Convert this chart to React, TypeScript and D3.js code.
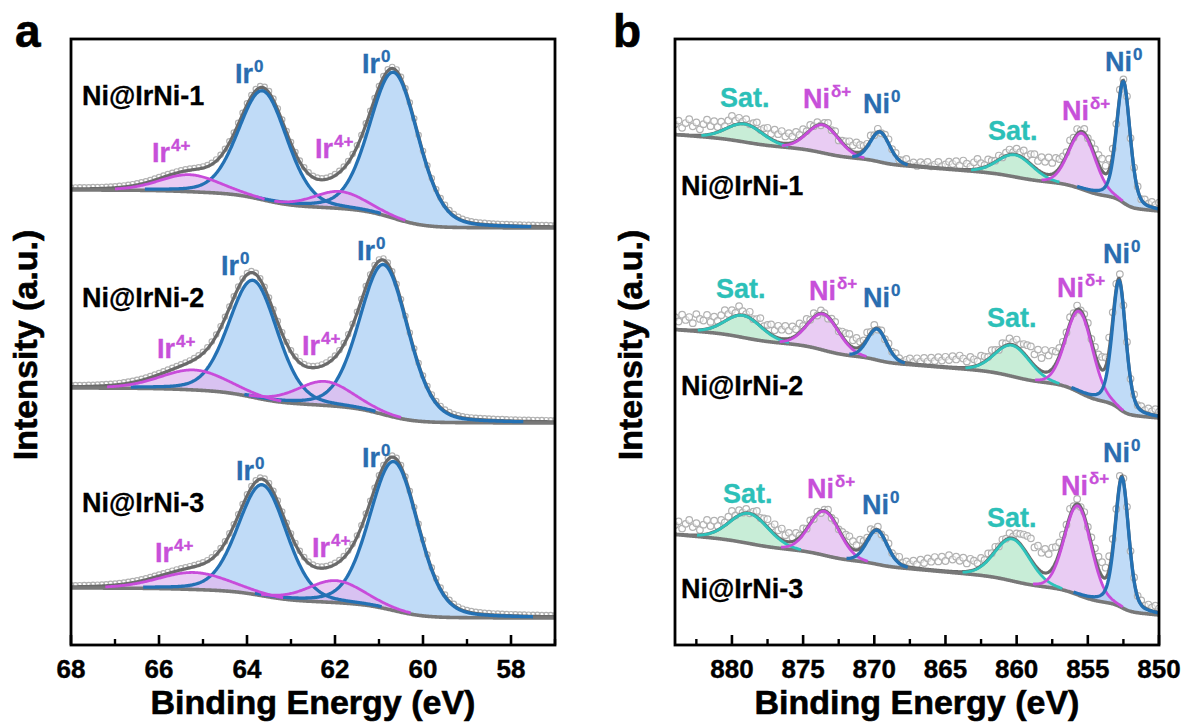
import React from "react";
import * as d3 from "d3";

// ---------------- Panel a : Ir 4f ----------------
const irSamples = ["Ni@IrNi-1", "Ni@IrNi-2", "Ni@IrNi-3"];
const irStates = ["0", "0", "4+", "4+"]; // Ir0 4f5/2, Ir0 4f7/2, Ir4+ 4f5/2, Ir4+ 4f7/2
const irCenters = [
  [63.64, 60.66, 65.3, 61.89],
  [63.86, 60.89, 65.2, 62.23],
  [63.65, 60.66, 65.2, 61.98],
];
const irHeights = [
  [109, 146, 17, 17],
  [117, 150, 20, 24],
  [111, 149, 17, 22],
];
const irFwhm = [
  [1.3, 1.3, 1.6, 1.4],
  [1.3, 1.3, 1.8, 1.5],
  [1.3, 1.3, 1.9, 1.5],
];
const irEta = [0.2, 0.2, 0.2, 0.2]; // Lorentzian fraction per component
const irBgHigh = [455, 257, 57]; // background level at 68 eV
const irBgLow = [417, 222, 27]; // background level at 57 eV
const irTicksMajor = [68, 66, 64, 62, 60, 58];
const irTicksMinor = [67, 65, 63, 61, 59, 57];

// ---------------- Panel b : Ni 2p ----------------
const niSamples = ["Ni@IrNi-1", "Ni@IrNi-2", "Ni@IrNi-3"];
const niStates = ["Sat.", "δ+", "0", "Sat.", "δ+", "0"];
const niCenters = [
  [879.1, 873.6, 869.6, 860.1, 855.4, 852.5],
  [879.2, 873.6, 869.8, 860.3, 855.6, 852.8],
  [878.8, 873.5, 869.8, 860.3, 855.7, 852.6],
];
const niHeights = [
  [18, 28, 30, 22, 56, 121],
  [22, 36, 31, 31, 81, 128],
  [30, 44, 34, 42, 89, 130],
];
const niFwhm = [
  [3.0, 2.6, 1.6, 2.9, 2.2, 1.12],
  [3.0, 2.6, 1.6, 2.9, 2.2, 1.12],
  [3.2, 2.5, 1.7, 2.9, 2.2, 1.12],
];
const niEta = [0.1, 0.1, 0.2, 0.1, 0.1, 0.35];
const niBgLow = [434, 227, 30]; // background at 850 eV
const niBgSlope = [1.1, 1.1, 1.25]; // linear part per eV
const niBgStep = [39, 51, 38]; // Shirley step
const niTicksMajor = [880, 875, 870, 865, 860, 855, 850];
const niTicksMinor = [882.5, 877.5, 872.5, 867.5, 862.5, 857.5, 852.5];

// measured points minus fit envelope, 884 -> 850 eV every 0.25 eV
const niResidual1 = [
  10, 14, 7, 12, 16, 9, 13, 6, 11, 15,
  8, 12, 5, 9, 3, 7, 10, 4, 6, 2,
  5, 1, 4, 7, 2, 6, 9, 5, 11, 8,
  12, 7, 10, 6, 9, 4, 7, 2, 5, 1,
  3, -1, 2, 4, 0, 3, -2, 2, 5, 8,
  6, 10, 7, 4, 2, 5, 0, 3, -1, 2,
  4, 1, 3, 0, 2, 5, 1, 3, 0, 4,
  2, 5, 1, 3, 6, 2, 4, 7, 5, 8,
  4, 9, 6, 3, 7, 10, 5, 2, 6, 3,
  1, 4, 0, 3, 5, 2, 6, 4, 8, 5,
  10, 13, 9, 15, 12, 17, 11, 14, 9, 6,
  3, 7, 2, 5, 1, 4, 0, 3, 6, 9,
  12, 8, 11, 6, 3, 5, 1, 4, -1, 2,
  3, 0, 4, 2, 5, 3, 6,
];
const niResidual2 = [
  12, 8, 15, 10, 13, 7, 16, 11, 9, 14,
  6, 10, 4, 8, 11, 5, 7, 3, 9, 4,
  2, 6, 1, 4, 8, 3, 7, 10, 6, 12,
  9, 13, 8, 11, 6, 9, 3, 6, 1, 4,
  -1, 3, 1, -2, 2, 4, 0, 5, 8, 11,
  7, 10, 5, 3, 6, 1, 4, -1, 2, 0,
  3, 1, 4, 2, 0, 3, 5, 2, 6, 3,
  7, 4, 8, 5, 9, 6, 10, 7, 11, 8,
  12, 9, 6, 10, 7, 4, 8, 5, 2, 6,
  3, 0, 4, 2, 6, 3, 7, 5, 9, 12,
  15, 11, 19, 13, 22, 16, 18, 12, 8, 4,
  2, 6, 1, 4, 0, 3, 5, 2, 7, 10,
  13, 9, 12, 7, 4, 6, 2, 5, 0, 3,
  1, 4, 2, 5, 3, 6, 4,
];
const niResidual3 = [
  9, 13, 6, 11, 15, 8, 12, 5, 10, 14,
  7, 11, 4, 8, 3, 6, 9, 2, 5, 1,
  4, 0, 3, 6, 2, 5, 8, 4, 10, 7,
  11, 6, 9, 4, 7, 2, 5, 0, 3, -1,
  2, -2, 1, 3, -1, 2, 0, 4, 7, 10,
  8, 5, 9, 4, 2, 5, 0, 3, -1, 2,
  4, 1, 3, 6, 2, 5, 3, 7, 4, 9,
  6, 11, 8, 13, 9, 14, 10, 16, 12, 15,
  11, 14, 8, 12, 9, 5, 8, 3, 6, 2,
  4, 0, 3, 1, 5, 2, 7, 10, 14, 18,
  21, 17, 23, 19, 24, 18, 21, 15, 10, 6,
  3, 7, 1, 5, 0, 4, 2, 6, 9, 12,
  14, 10, 13, 8, 4, 6, 2, 5, 0, 3,
  1, 4, 2, 5, 3, 6, 4,
];
const niResiduals = [niResidual1, niResidual2, niResidual3];

// ---------------- helpers ----------------
const FONT = "'Liberation Sans', Arial, Helvetica, sans-serif";
const Y0 = 39;
const Y1 = 645;
const yScale = d3.scaleLinear().domain([0, 606]).range([Y1, Y0]);

function pv(E: number, c: number, h: number, w: number, eta: number) {
  const x = (E - c) / w;
  return h * ((1 - eta) * Math.exp(-4 * Math.LN2 * x * x) + eta / (1 + 4 * x * x));
}

function buildSpectrum(
  grid: number[],
  centers: number[],
  heights: number[],
  fwhms: number[],
  etas: number[],
  low: number,
  slope: number,
  step: number,
  eRef: number
) {
  const comps = centers.map((c, i) => grid.map((E) => pv(E, c, heights[i], fwhms[i], etas[i])));
  const total = grid.map((_, j) => comps.reduce((s, cp) => s + cp[j], 0));
  const area = [0];
  for (let j = 1; j < grid.length; j++) {
    area.push(area[j - 1] + 0.5 * (total[j] + total[j - 1]) * (grid[j] - grid[j - 1]));
  }
  const A = area[area.length - 1];
  const bg = grid.map((E, j) => low + slope * (E - eRef) + (step * area[j]) / A);
  const env = grid.map((_, j) => bg[j] + total[j]);
  return { grid, comps, bg, env };
}

const styleOf: Record<string, { line: string; fill: string; text: string }> = {
  "0": { line: "#2471b4", fill: "#a7cdf4", text: "#2a6db0" },
  "4+": { line: "#c84cda", fill: "#e0b8ee", text: "#c750d9" },
  "δ+": { line: "#c84cda", fill: "#e0b8ee", text: "#c750d9" },
  "Sat.": { line: "#2ec3bb", fill: "#b3e6c8", text: "#2cc0b8" },
};

type Spec = ReturnType<typeof buildSpectrum>;

function Panel(props: {
  id: string;
  xs: d3.ScaleLinear<number, number>;
  spectra: Spec[];
  states: string[];
  circles: { x: number; y: number }[][];
  circleR: number;
  peakLabels: number[][][];
  sampleLabels: number[][];
  samples: string[];
  majors: number[];
  minors: number[];
  letter: string;
  letterX: number;
  yTitleX: number;
}) {
  const { id, xs, spectra, states } = props;
  const [x0, x1] = xs.range();
  const clip = `clip-${id}`;
  return (
    <g>
      <defs>
        <clipPath id={clip}>
          <rect x={x0} y={Y0} width={x1 - x0} height={Y1 - Y0} />
        </clipPath>
      </defs>
      <g clipPath={`url(#${clip})`}>
        {spectra.map((sp, s) =>
          sp.comps.map((cp, i) => {
            const area = d3
              .area<number>()
              .defined((_, j) => cp[j] > 0.15)
              .x((_, j) => xs(sp.grid[j]))
              .y0((_, j) => yScale(sp.bg[j]))
              .y1((_, j) => yScale(sp.bg[j] + cp[j]));
            return (
              <path
                key={`f${s}-${i}`}
                d={area(sp.grid) || ""}
                fill={styleOf[states[i]].fill}
                fillOpacity={0.72}
                stroke="none"
              />
            );
          })
        )}
        {props.circles.map((pts, s) =>
          pts.map((p, k) => (
            <circle
              key={`c${s}-${k}`}
              cx={p.x}
              cy={p.y}
              r={props.circleR}
              fill="#ffffff"
              fillOpacity={0.55}
              stroke="#b2b2b2"
              strokeWidth={1.2}
            />
          ))
        )}
        {spectra.map((sp, s) => {
          const line = d3
            .line<number>()
            .x((_, j) => xs(sp.grid[j]))
            .y((v) => yScale(v));
          return (
            <g key={`e${s}`}>
              <path d={line(sp.env) || ""} fill="none" stroke="#6a6a6a" strokeWidth={3.2} />
              <path d={line(sp.bg) || ""} fill="none" stroke="#787878" strokeWidth={3.6} />
            </g>
          );
        })}
        {spectra.map((sp, s) =>
          sp.comps.map((cp, i) => {
            const line = d3
              .line<number>()
              .defined((_, j) => cp[j] > 1.2)
              .x((_, j) => xs(sp.grid[j]))
              .y((_, j) => yScale(sp.bg[j] + cp[j]));
            return (
              <path
                key={`l${s}-${i}`}
                d={line(sp.grid) || ""}
                fill="none"
                stroke={styleOf[states[i]].line}
                strokeWidth={states[i] === "0" ? 3.3 : 2.8}
              />
            );
          })
        )}
      </g>
      <rect x={x0} y={Y0} width={x1 - x0} height={Y1 - Y0} fill="none" stroke="#000" strokeWidth={2.8} />
      {props.majors.map((t) => (
        <line key={`M${t}`} x1={xs(t)} x2={xs(t)} y1={Y1} y2={Y1 - 10} stroke="#000" strokeWidth={2.6} />
      ))}
      {props.minors.map((t) => (
        <line key={`m${t}`} x1={xs(t)} x2={xs(t)} y1={Y1} y2={Y1 - 6} stroke="#000" strokeWidth={2.4} />
      ))}
      {props.majors.map((t) => (
        <text
          key={`T${t}`}
          x={xs(t)}
          y={678}
          textAnchor="middle"
          fontSize={26}
          fontWeight="bold"
          fill="#000"
          stroke="#000"
          strokeWidth={0.4}
        >
          {String(t)}
        </text>
      ))}
      <text
        x={(x0 + x1) / 2}
        y={714}
        textAnchor="middle"
        fontSize={34}
        fontWeight="bold"
        fill="#000"
        stroke="#000"
        strokeWidth={0.6}
      >
        Binding Energy (eV)
      </text>
      <text
        transform={`translate(${props.yTitleX},${(Y0 + Y1) / 2 + 3}) rotate(-90)`}
        textAnchor="middle"
        fontSize={34}
        fontWeight="bold"
        fill="#000"
        stroke="#000"
        strokeWidth={0.6}
      >
        Intensity (a.u.)
      </text>
      <text x={props.letterX} y={47} fontSize={46} fontWeight="bold" fill="#000" stroke="#000" strokeWidth={0.6}>
        {props.letter}
      </text>
      {props.samples.map((name, s) => (
        <text
          key={`s${s}`}
          x={props.sampleLabels[s][0]}
          y={props.sampleLabels[s][1]}
          fontSize={27}
          fontWeight="bold"
          fill="#000"
          stroke="#000"
          strokeWidth={0.3}
        >
          {name}
        </text>
      ))}
      {props.peakLabels.map((row, s) =>
        row.map((pos, i) => {
          const st = states[i];
          const col = styleOf[st].text;
          const base = st === "Sat." ? "Sat." : id === "a" ? "Ir" : "Ni";
          return (
            <text
              key={`p${s}-${i}`}
              x={pos[0]}
              y={pos[1]}
              fontSize={27}
              fontWeight="bold"
              fill={col}
              stroke={col}
              strokeWidth={0.3}
            >
              {base}
              {st !== "Sat." && (
                <tspan fontSize={17} dy={-11} dx={1}>
                  {st}
                </tspan>
              )}
            </text>
          );
        })
      )}
    </g>
  );
}

export default function App() {
  const xA = d3.scaleLinear().domain([68, 57]).range([71, 555]);
  const xB = d3.scaleLinear().domain([884, 850]).range([675, 1159]);

  const gridA = d3.range(0, 551).map((i) => 57 + i * 0.02);
  const gridB = d3.range(0, 681).map((i) => 850 + i * 0.05);

  const irSpectra = irSamples.map((_, s) =>
    buildSpectrum(gridA, irCenters[s], irHeights[s], irFwhm[s], irEta, irBgLow[s], 0, irBgHigh[s] - irBgLow[s], 57)
  );
  const niSpectra = niSamples.map((_, s) =>
    buildSpectrum(gridB, niCenters[s], niHeights[s], niFwhm[s], niEta, niBgLow[s], niBgSlope[s], niBgStep[s], 850)
  );

  const irCircles = irSpectra.map((sp) =>
    sp.grid
      .map((E, j) => ({ j, E }))
      .filter((d) => d.j % 5 === 0)
      .map((d) => ({ x: xA(d.E), y: yScale(sp.env[d.j] + 1.5) }))
  );
  const niCircles = niSpectra.map((sp, s) =>
    niResiduals[s].map((r, i) => {
      const j = 680 - 5 * i;
      return { x: xB(sp.grid[j]), y: yScale(sp.env[j] + r) };
    })
  );

  const irLabelPos = [
    [[235, 83], [362, 73], [152, 162], [315, 158]],
    [[221, 275], [357, 260], [157, 358], [302, 355]],
    [[236, 480], [362, 467], [155, 562], [312, 557]],
  ];
  const niLabelPos = [
    [[720, 107], [803, 108], [863, 113], [988, 140], [1062, 120], [1105, 71]],
    [[716, 298], [809, 300], [863, 307], [987, 327], [1057, 297], [1103, 263]],
    [[723, 503], [807, 498], [862, 514], [987, 527], [1061, 495], [1103, 462]],
  ];

  return (
    <svg
      width={1186}
      height={722}
      viewBox="0 0 1186 722"
      style={{ position: "absolute", left: 0, top: 0, background: "#fff" }}
      fontFamily={FONT}
    >
      <rect x={0} y={0} width={1186} height={722} fill="#fff" />
      <Panel
        id="a"
        xs={xA}
        spectra={irSpectra}
        states={irStates}
        circles={irCircles}
        circleR={2.7}
        peakLabels={irLabelPos}
        sampleLabels={[[82, 105], [82, 307], [82, 512]]}
        samples={irSamples}
        majors={irTicksMajor}
        minors={irTicksMinor}
        letter="a"
        letterX={15}
        yTitleX={37}
      />
      <Panel
        id="b"
        xs={xB}
        spectra={niSpectra}
        states={niStates}
        circles={niCircles}
        circleR={3.3}
        peakLabels={niLabelPos}
        sampleLabels={[[681, 195], [681, 395], [681, 598]]}
        samples={niSamples}
        majors={niTicksMajor}
        minors={niTicksMinor}
        letter="b"
        letterX={613}
        yTitleX={642}
      />
    </svg>
  );
}
